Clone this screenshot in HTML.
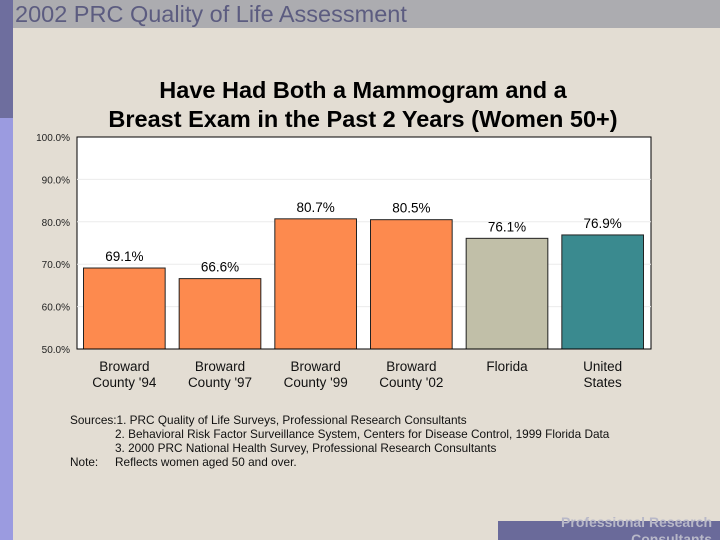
<!DOCTYPE html>
<html style="overflow:hidden"><head><meta charset="utf-8"><style>
html,body{margin:0;width:720px;height:540px;overflow:hidden}
body{background:#e3ddd3;font-family:"Liberation Sans",sans-serif;position:relative}
.abs{position:absolute}
.src{position:absolute;font-size:11.8px;color:#111;white-space:nowrap}
</style></head><body>
<div class="abs" style="left:0;top:0;width:13px;height:118px;background:#6e6e9e"></div>
<div class="abs" style="left:0;top:118px;width:13px;height:422px;background:#9b9be0"></div>
<div class="abs" style="left:13px;top:0;width:707px;height:28px;background:#acacb0"></div>
<div class="abs" style="left:15px;top:1px;font-size:23.5px;color:#5c5c80;white-space:nowrap">2002 PRC Quality of Life Assessment</div>
<div class="abs" style="left:60px;top:76px;width:606px;text-align:center;font-weight:bold;font-size:23.5px;line-height:29px;color:#000;white-space:nowrap">Have Had Both a Mammogram and a<br>Breast Exam in the Past 2 Years (Women 50+)</div>
<svg class="abs" style="left:0;top:0" width="720" height="540">
<g id="g"></g>
</svg>
<div class="src" style="left:70px;top:413px">Sources:1. PRC Quality of Life Surveys, Professional Research Consultants</div>
<div class="src" style="left:115px;top:427px">2. Behavioral Risk Factor Surveillance System, Centers for Disease Control, 1999 Florida Data</div>
<div class="src" style="left:115px;top:441px">3. 2000 PRC National Health Survey, Professional Research Consultants</div>
<div class="src" style="left:70px;top:455px">Note:</div>
<div class="src" style="left:115px;top:455px">Reflects women aged 50 and over.</div>
<div class="abs" style="left:498px;top:521px;width:222px;height:19px;background:#6a6a9a"></div>
<div class="abs" style="left:498px;top:514px;width:214px;text-align:right;font-size:14px;font-weight:bold;color:#b8b8c8;line-height:17px;white-space:nowrap">Professional Research<br>Consultants</div>
<script>
const categories=[["Broward","County '94"],["Broward","County '97"],["Broward","County '99"],["Broward","County '02"],["Florida",""],["United","States"]];
const values=[69.1,66.6,80.7,80.5,76.1,76.9];
const colors=["#fd8a4e","#fd8a4e","#fd8a4e","#fd8a4e","#c1bfa8","#3a8a8f"];
const yTicks=[50,60,70,80,90,100];
const L=77,R=651,T=137,B=349,ymin=50,ymax=100;
const y=v=>B-(v-ymin)/(ymax-ymin)*(B-T);
const slot=(R-L)/categories.length;
const x=i=>L+i*slot;
const ns="http://www.w3.org/2000/svg",g=document.getElementById('g');
function mk(t,a){const e=document.createElementNS(ns,t);for(const k in a)e.setAttribute(k,a[k]);g.appendChild(e);return e;}
const bg=mk('rect',{x:L,y:T,width:R-L,height:B-T,fill:'#fff',stroke:'#000','stroke-width':1});


yTicks.forEach(t=>{
 if(t>ymin&&t<ymax){const gl=mk('line',{x1:L,x2:R,y1:y(t),y2:y(t),stroke:'#ececec'});
 
 }
 const tl=mk('text',{x:70,y:y(t)+4,'text-anchor':'end','font-size':10,fill:'#222'});
 tl.textContent=t.toFixed(1)+'%';
 
 
});
values.forEach((v,i)=>{
 const bx=x(i)+6.5,bw=slot-14;
 const r=mk('rect',{x:bx,y:y(v),width:bw,height:B-y(v),fill:colors[i],stroke:'#222','stroke-width':1});
 
 
 const lb=mk('text',{x:bx+bw/2,y:y(v)-7,'text-anchor':'middle','font-size':13.5,fill:'#000'});
 lb.textContent=v.toFixed(1)+'%';
 
 
 categories[i].forEach((s,j)=>{
  const c=mk('text',{x:bx+bw/2,y:371+j*16,'text-anchor':'middle','font-size':13.5,fill:'#111'});
  c.textContent=s;
  
  
 });
});
const ax=mk('line',{x1:L,x2:R,y1:B,y2:B,stroke:'#000'});


</script>
</body></html>
